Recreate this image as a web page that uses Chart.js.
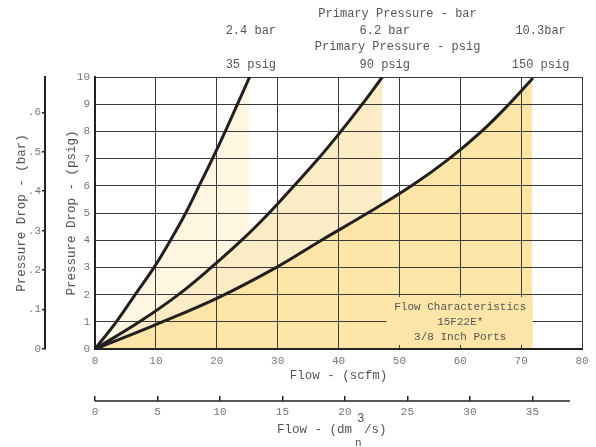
<!DOCTYPE html>
<html><head><meta charset="utf-8">
<script src="https://cdn.jsdelivr.net/npm/chart.js@4.4.1/dist/chart.umd.min.js"></script>
<style>html,body{margin:0;padding:0;background:#fff}</style>
</head><body>
<canvas id="c" width="596" height="447"></canvas>
<script>
// ---- data ----
const flow35 = [0, 3.5, 6.6, 9.7, 12.4, 14.9, 17.1, 19.3, 21.4, 23.4, 25.4];
const drop35 = [0, 1, 2, 3, 4, 5, 6, 7, 8, 9, 10];
const flow90 = [0, 7.3, 13.7, 19.1, 24.1, 28.6, 32.7, 36.7, 40.4, 43.9, 47.2];
const drop90 = [0, 1, 2, 3, 4, 5, 6, 7, 8, 9, 10];
const flow150 = [0, 10, 20, 29.8, 37.2, 44.8, 52.0, 58.2, 63.5, 68.0, 71.8];
const drop150 = [0, 0.9, 1.86, 3, 4, 5, 6, 7, 8, 9, 9.93];

const seriesNames = ['150 psig', '90 psig', '35 psig'];
const barNames = ['10.3bar', '6.2 bar', '2.4 bar'];
const scfmTicks = [0, 10, 20, 30, 40, 50, 60, 70, 80];
const psigTicks = [0, 1, 2, 3, 4, 5, 6, 7, 8, 9, 10];
const barTicks = [0, 0.1, 0.2, 0.3, 0.4, 0.5, 0.6];
const barTickLabels = ['0', '.1', '.2', '.3', '.4', '.5', '.6'];
const dm3Ticks = [0, 5, 10, 15, 20, 25, 30, 35];
const noteLines = ['Flow Characteristics', '15F22E*', '3/8 Inch Ports'];

const FONT = "'Liberation Mono', 'DejaVu Sans Mono', monospace";
const fillDark = '#FDE5A8', fillMid = '#FCECC6', fillLight = '#FEF6E0';
const lineCol = '#231f20';
const toPts = (xs, ys) => xs.map((x, i) => ({x: x, y: ys[i]}));

Chart.defaults.font.family = FONT;

const decor = {
  id: 'decor',
  afterDatasetsDraw(chart) {
    const {ctx, scales: {x, y}} = chart;
    ctx.save();
    const x0 = x.getPixelForValue(47.9), x1 = x.getPixelForValue(71.9);
    const y0 = y.getPixelForValue(1.91), y1 = y.getPixelForValue(0.15);
    ctx.fillStyle = fillDark;
    ctx.fillRect(x0, y0, x1 - x0, y1 - y0);
    ctx.fillStyle = '#555';
    ctx.font = "11px " + FONT;
    ctx.textAlign = 'center';
    ctx.textBaseline = 'middle';
    const cx = x.getPixelForValue(60);
    [1.555, 0.98, 0.45].forEach((v, i) => ctx.fillText(noteLines[i], cx, y.getPixelForValue(v)));
    ctx.restore();
  },
  afterDraw(chart) {
    const {ctx, scales: {x, x2}} = chart;
    ctx.save();
    ctx.fillStyle = '#555';
    ctx.font = "12px " + FONT;
    ctx.textAlign = 'center';
    ctx.textBaseline = 'middle';
    const hx = x.getPixelForValue(49.7);
    ctx.fillText('Primary Pressure - bar', hx, 14);
    ctx.fillText('Primary Pressure - psig', hx, 47);
    const lx = [73.2, 47.6, 25.6];
    lx.forEach((v, i) => {
      const px = x.getPixelForValue(v);
      ctx.fillText(barNames[i], px, 31);
      ctx.fillText(seriesNames[i], px, 65);
    });
    const ly = x2.top + 5;
    ctx.strokeStyle = '#222';
    ctx.lineWidth = 1.5;
    ctx.beginPath();
    ctx.moveTo(x2.getPixelForValue(0), ly);
    ctx.lineTo(x2.getPixelForValue(38), ly);
    ctx.stroke();
    ctx.font = "12.5px " + FONT;
    ctx.textAlign = 'right';
    ctx.fillText('Flow - (dm', 352, 430);
    ctx.textAlign = 'left';
    ctx.fillText('3', 357, 419);
    ctx.fillText('/s)', 364, 430);
    ctx.font = "11px " + FONT;
    ctx.fillText('n', 355, 443);
    ctx.restore();
  }
};

const mk = (i, xs, ys, col) => ({
  label: seriesNames[i], data: toPts(xs, ys),
  borderColor: lineCol, borderWidth: 3, backgroundColor: col,
  fill: 'origin', pointRadius: 0, tension: 0.4, borderJoinStyle: 'round', borderCapStyle: 'round'
});

new Chart(document.getElementById('c'), {
  type: 'line',
  data: { datasets: [
    mk(0, flow150, drop150, fillDark),
    mk(1, flow90, drop90, fillMid),
    mk(2, flow35, drop35, fillLight)
  ]},
  plugins: [decor],
  options: {
    responsive: false, animation: false, devicePixelRatio: 1,
    layout: { padding: { top: 77, right: 14, bottom: 0, left: 0 } },
    plugins: { legend: { display: false }, tooltip: { enabled: false },
      filler: { drawTime: 'beforeDraw' } },
    scales: {
      x: {
        type: 'linear', position: 'bottom', weight: 0, min: 0, max: 80,
        afterBuildTicks: s => { s.ticks = scfmTicks.map(v => ({value: v})); },
        afterFit: s => { s.height = 47; },
        grid: { color: '#3a3a3a', lineWidth: 1, drawTicks: false },
        border: { color: '#222', width: 2 },
        ticks: { color: '#777', font: { size: 11 }, padding: 5, maxRotation: 0 },
        title: { display: true, text: 'Flow - (scfm)', color: '#555', font: { size: 12.5 },
                 padding: { top: 0, bottom: 12.5 } }
      },
      x2: {
        type: 'linear', position: 'bottom', weight: 1, min: 0, max: 38.97,
        afterBuildTicks: s => { s.ticks = dm3Ticks.map(v => ({value: v})); },
        afterFit: s => { s.height = 51; },
        grid: { display: true, drawOnChartArea: false, drawTicks: true, tickLength: 5,
                color: '#222', lineWidth: 1.5 },
        border: { display: false },
        ticks: { color: '#777', font: { size: 11 }, padding: 4, maxRotation: 0 }
      },
      y: {
        type: 'linear', position: 'left', weight: 0, min: 0, max: 10,
        afterBuildTicks: s => { s.ticks = psigTicks.map(v => ({value: v})); },
        afterFit: s => { s.width = 50; },
        grid: { color: '#3a3a3a', lineWidth: 1, drawTicks: false },
        border: { color: '#222', width: 2 },
        ticks: { color: '#777', font: { size: 11 }, padding: 5 },
        title: { display: true, text: 'Pressure Drop - (psig)', color: '#555', font: { size: 12.5 },
                 padding: { top: 19.5, bottom: 0 } }
      },
      y2: {
        type: 'linear', position: 'left', weight: 1, min: 0, max: 10 / 14.5038,
        afterBuildTicks: s => { s.ticks = barTicks.map(v => ({value: v})); },
        afterFit: s => { s.width = 45; },
        grid: { display: true, drawOnChartArea: false, drawTicks: true, tickLength: 3,
                color: '#222', lineWidth: 1.5 },
        border: { color: '#222', width: 2 },
        ticks: { color: '#777', font: { size: 11 }, padding: 1,
                 callback: (v, i) => barTickLabels[i] },
        title: { display: true, text: 'Pressure Drop - (bar)', color: '#555', font: { size: 12.5 },
                 padding: { top: 14.5, bottom: 0 } }
      }
    }
  }
});
</script>
</body></html>
